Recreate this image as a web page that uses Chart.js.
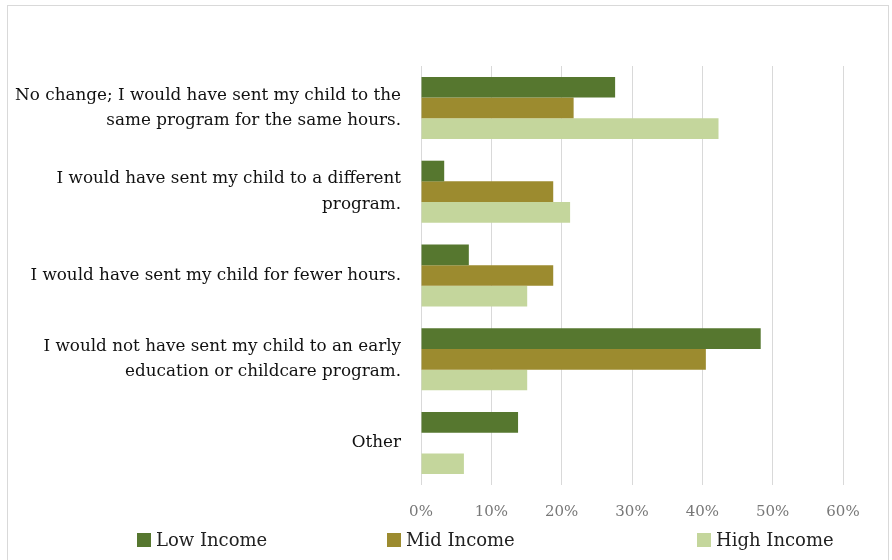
<!DOCTYPE html>
<html>
<head>
<meta charset="utf-8">
<script src="https://cdn.jsdelivr.net/npm/chart.js@4"></script>
<style>
  body { margin: 0; background: #fff; }
  #wrap { position: relative; width: 892px; height: 560px; }
  #frame { position: absolute; left: 7px; top: 5px; width: 882px; height: 560px; border: 1px solid #d9d9d9; border-bottom: none; box-sizing: border-box; }
  #legend { position: absolute; top: 529px; left: 0; width: 892px; height: 28px; font-family: "DejaVu Serif", serif; font-size: 18px; color: #222; }
  #legend span.item { position: absolute; display: flex; align-items: center; }
  #legend span.box { display: inline-block; width: 14px; height: 14px; margin-right: 5px; }
</style>
</head>
<body>
<div id="wrap">
  <div id="frame"></div>
  <canvas id="grafico" width="892" height="560"></canvas>
  <div id="legend"></div>
</div>
<script>
// Categorias (rótulos do eixo Y)
const categorias = [
  ["No change; I would have sent my child to the", "same program for the same hours."],
  ["I would have sent my child to a different", "program."],
  "I would have sent my child for fewer hours.",
  ["I would not have sent my child to an early", "education or childcare program."],
  "Other"
];

// Valores de cada série (%)
const lowIncome = [27.6, 3.3, 6.8, 48.3, 13.8];
const midIncome = [21.7, 18.8, 18.8, 40.5, 0];
const highIncome = [42.3, 21.2, 15.1, 15.1, 6.1];

const series = ["Low Income", "Mid Income", "High Income"];
const cores = ["#56772f", "#9c8b2f", "#c4d69c"];
const xTicks = [0, 10, 20, 30, 40, 50, 60];

const fonteSerif = "'DejaVu Serif', serif";

const ctx = document.getElementById("grafico").getContext("2d");

new Chart(ctx, {
  type: "bar",
  data: {
    labels: categorias,
    datasets: [lowIncome, midIncome, highIncome].map((dados, i) => ({
      label: series[i],
      data: dados,
      backgroundColor: cores[i],
      borderWidth: 0,
      barPercentage: 1,
      categoryPercentage: 0.74,
    })),
  },
  options: {
    indexAxis: "y",
    responsive: false,
    animation: false,
    layout: { padding: { top: 66, right: 49, bottom: 35, left: 0 } },
    plugins: {
      legend: { display: false },
      tooltip: { enabled: false },
    },
    scales: {
      x: {
        min: 0,
        max: 60,
        afterBuildTicks: (scale) => {
          scale.ticks = xTicks.map((v) => ({ value: v }));
        },
        afterFit: (scale) => {
          scale.height = 40;
        },
        grid: { color: "#d9d9d9", drawTicks: false },
        border: { display: false },
        ticks: {
          padding: 18,
          color: "#777",
          font: { family: fonteSerif, size: 15 },
          callback: (v) => v + "%",
        },
      },
      y: {
        afterFit: (scale) => {
          scale.width = 421;
        },
        grid: { display: false },
        border: { display: false },
        ticks: {
          padding: 12,
          color: "#111",
          font: { family: fonteSerif, size: 16.8, lineHeight: 1.5 },
        },
      },
    },
  },
});

// Legenda em HTML
const legenda = document.getElementById("legend");
const posicoes = [137, 387, 697];
series.forEach((nome, i) => {
  const item = document.createElement("span");
  item.className = "item";
  item.style.left = posicoes[i] + "px";
  item.innerHTML = `<span class="box" style="background:${cores[i]}"></span>${nome}`;
  legenda.appendChild(item);
});
</script>
</body>
</html>
